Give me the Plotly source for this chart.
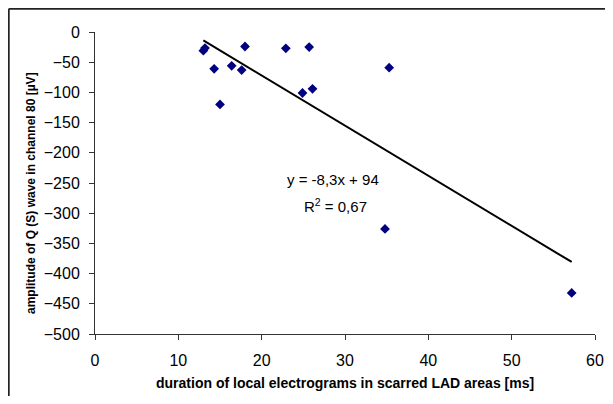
import numpy as np
import plotly.graph_objects as go

# data
duration_ms = [13.0, 13.2, 14.3, 15.0, 16.4, 17.6, 18.0, 22.9, 25.7, 24.9, 26.1, 35.3, 34.8, 57.2]
amplitude_uV = [-31, -26.5, -61, -120, -56, -63, -24, -27, -25, -101, -94, -59, -326, -432]

# trend line coefficients as shown on the chart
slope = -8.3
intercept = 94
eq_text = "y = -8,3x + 94"
r2_text = "R<sup>2</sup> = 0,67"

x_ticks = [0, 10, 20, 30, 40, 50, 60]
y_ticks = [0, -50, -100, -150, -200, -250, -300, -350, -400, -450, -500]

x_title = "duration of local electrograms in scarred LAD areas [ms]"
y_title = "amplitude of Q (S) wave in channel 80 [µV]"

FONT = "Liberation Sans, Arial, sans-serif"

xs = np.array([min(duration_ms), max(duration_ms)])
ys = slope * xs + intercept

fig = go.Figure()
fig.add_trace(go.Scatter(x=xs, y=ys, mode="lines",
                         line=dict(color="black", width=2), hoverinfo="skip"))
fig.add_trace(go.Scatter(x=duration_ms, y=amplitude_uV, mode="markers",
                         marker=dict(symbol="diamond", color="#000080", size=7.5,
                                     line=dict(width=0))))

OFF = 8  # page body margin
W, H = 613 - 2 * OFF, 404 - 2 * OFF
L, T = 95 - OFF, 32 - OFF
R = W - (595 - OFF)
B = H - (334 - OFF)
pw, ph = W - L - R, H - T - B

def px(x):  # screen px -> paper x
    return (x - OFF - L) / pw

def py(y):  # screen px -> paper y
    return (H - B - (y - OFF)) / ph

border = dict(color="#222", width=1.8)

fig.update_layout(
    width=W, height=H,
    margin=dict(l=L, r=R, t=T, b=B),
    paper_bgcolor="white", plot_bgcolor="white",
    showlegend=False,
    font=dict(family=FONT, color="black", size=16),
    xaxis=dict(range=[0, 60], tickvals=x_ticks, ticks="outside", ticklen=5,
               tickcolor="#333", showline=True, linecolor="#333", linewidth=1,
               showgrid=False, zeroline=False, tickfont=dict(size=16),
               ticklabelstandoff=7, automargin=False),
    yaxis=dict(range=[-500, 0], tickvals=y_ticks, ticks="outside", ticklen=5,
               tickcolor="#333", showline=True, linecolor="#333", linewidth=1,
               showgrid=False, zeroline=False, tickfont=dict(size=16),
               ticklabelstandoff=6, automargin=False),
    shapes=[
        dict(type="line", xref="paper", yref="paper",
             x0=px(8.8), x1=px(640), y0=py(8.8), y1=py(8.8), line=border),
        dict(type="line", xref="paper", yref="paper",
             x0=px(8.8), x1=px(8.8), y0=py(8.8), y1=py(430), line=border),
    ],
    annotations=[
        dict(text=eq_text, x=28.6, y=-245, xref="x", yref="y", showarrow=False,
             font=dict(size=15)),
        dict(text=r2_text, x=28.9, y=-288, xref="x", yref="y", showarrow=False,
             font=dict(size=15)),
        dict(text="<b>" + x_title + "</b>", x=px(345), y=py(383), xref="paper", yref="paper",
             showarrow=False, font=dict(size=14), xanchor="center", yanchor="middle"),
        dict(text="<b>" + y_title + "</b>", x=px(31), y=py(193), xref="paper", yref="paper",
             showarrow=False, font=dict(size=12), textangle=-90,
             xanchor="center", yanchor="middle"),
    ],
)

fig.write_html("out.html")
